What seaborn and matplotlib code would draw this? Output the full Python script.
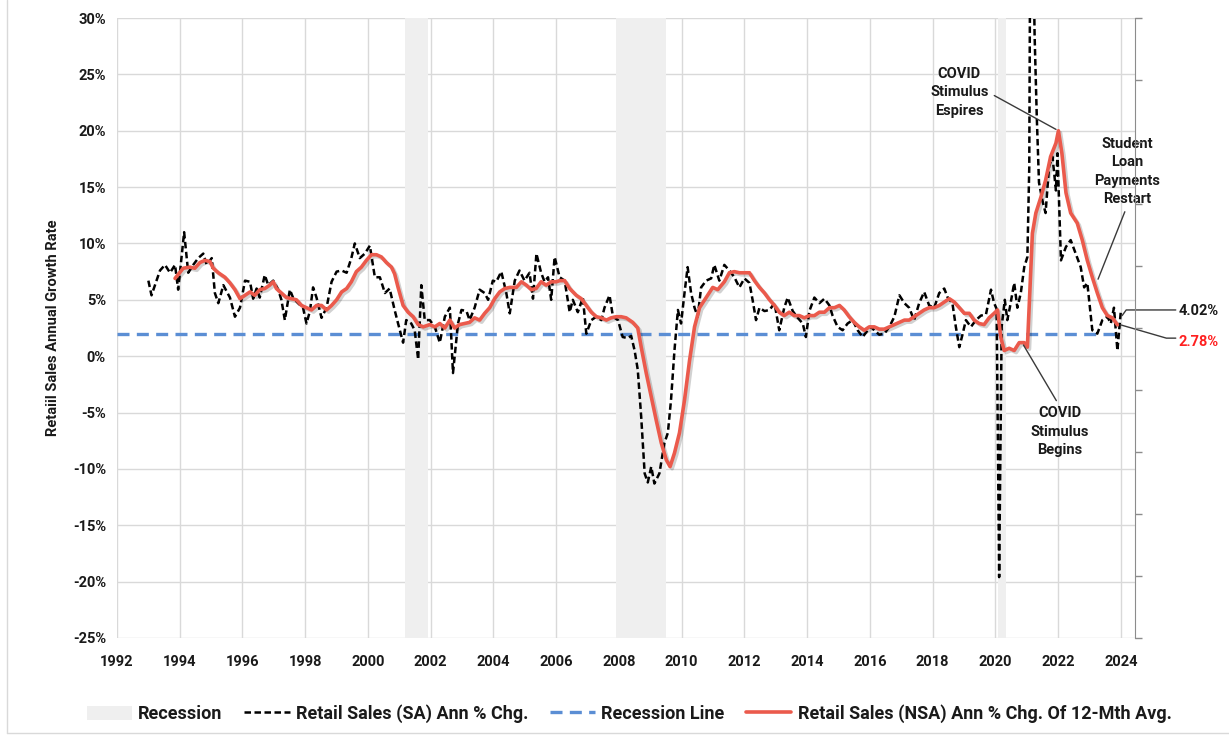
import matplotlib
matplotlib.use("Agg")
import matplotlib.pyplot as plt
import matplotlib.patheffects as pe
from matplotlib.patches import Patch
from matplotlib.lines import Line2D
import pandas as pd
import seaborn as sns

# Retail sales (SA) annual % change
sa_years = [1993.0, 1993.1, 1993.37, 1993.53, 1993.69, 1993.85, 1993.95, 1994.14, 1994.27, 1994.43,
            1994.59, 1994.75, 1994.86, 1995.02, 1995.12, 1995.23, 1995.39, 1995.6, 1995.76, 1995.92,
            1996.08, 1996.24, 1996.34, 1996.45, 1996.55, 1996.71, 1996.82, 1996.98, 1997.14, 1997.24,
            1997.35, 1997.51, 1997.61, 1997.77, 1997.93, 1998.04, 1998.15, 1998.25, 1998.36, 1998.52,
            1998.68, 1998.84, 1999.0, 1999.16, 1999.32, 1999.47, 1999.58, 1999.74, 1999.9, 2000.06,
            2000.22, 2000.38, 2000.54, 2000.69, 2000.85, 2000.96, 2001.12, 2001.22, 2001.38, 2001.49,
            2001.6, 2001.7, 2001.81, 2001.97, 2002.13, 2002.29, 2002.45, 2002.61, 2002.71, 2002.87,
            2002.98, 2003.14, 2003.24, 2003.4, 2003.56, 2003.72, 2003.83, 2003.98, 2004.09, 2004.25,
            2004.41, 2004.52, 2004.68, 2004.83, 2004.99, 2005.15, 2005.26, 2005.37, 2005.52, 2005.63,
            2005.74, 2005.84, 2005.95, 2006.11, 2006.27, 2006.43, 2006.53, 2006.69, 2006.85, 2006.96,
            2007.12, 2007.28, 2007.44, 2007.54, 2007.7, 2007.81, 2007.97, 2008.12, 2008.28, 2008.39,
            2008.5, 2008.6, 2008.71, 2008.82, 2008.92, 2009.03, 2009.13, 2009.29, 2009.45, 2009.56,
            2009.66, 2009.77, 2009.88, 2009.98, 2010.09, 2010.19, 2010.3, 2010.41, 2010.51, 2010.62,
            2010.78, 2010.94, 2011.04, 2011.2, 2011.36, 2011.52, 2011.68, 2011.84, 2012.0, 2012.16,
            2012.26, 2012.37, 2012.48, 2012.64, 2012.8, 2012.96, 2013.11, 2013.27, 2013.38, 2013.54,
            2013.7, 2013.86, 2013.96, 2014.07, 2014.23, 2014.39, 2014.55, 2014.71, 2014.81, 2014.97,
            2015.13, 2015.29, 2015.45, 2015.61, 2015.77, 2015.93, 2016.03, 2016.14, 2016.3, 2016.46,
            2016.62, 2016.78, 2016.94, 2017.1, 2017.25, 2017.41, 2017.57, 2017.73, 2017.89, 2018.05,
            2018.21, 2018.37, 2018.48, 2018.63, 2018.74, 2018.85, 2018.95, 2019.06, 2019.22, 2019.38,
            2019.54, 2019.7, 2019.86, 2019.96, 2020.04, 2020.12, 2020.2, 2020.3, 2020.38, 2020.46,
            2020.6, 2020.7, 2020.81, 2020.92, 2021.02, 2021.08, 2021.13, 2021.25, 2021.32, 2021.39,
            2021.5, 2021.6, 2021.71, 2021.82, 2021.93, 2021.98, 2022.09, 2022.25, 2022.4, 2022.56,
            2022.72, 2022.83, 2022.93, 2023.09, 2023.25, 2023.41, 2023.57, 2023.68, 2023.78, 2023.89,
            2024.0]
sa_values = [6.7, 5.4, 7.6, 8.1, 7.4, 8.1, 5.9, 11.0, 7.4, 8.1,
             8.7, 9.1, 8.1, 8.7, 5.6, 4.7, 6.3, 5.2, 3.5, 4.3,
             6.7, 6.6, 5.1, 6.0, 5.2, 7.2, 6.3, 6.7, 5.9, 5.0,
             3.2, 5.9, 5.2, 4.7, 4.3, 2.9, 4.0, 6.1, 5.2, 3.4,
             4.3, 6.6, 7.5, 7.6, 7.4, 8.7, 10.0, 8.7, 9.1, 9.8,
             7.0, 7.0, 5.6, 6.0, 4.1, 2.9, 1.2, 3.2, 2.9, 2.3,
             -0.3, 6.3, 3.2, 3.2, 2.6, 1.2, 3.5, 4.3, -1.5, 2.9,
             4.1, 4.0, 3.2, 4.3, 5.9, 5.6, 5.0, 6.7, 6.6, 7.5,
             5.6, 3.8, 6.7, 7.6, 6.7, 7.4, 5.1, 9.1, 7.4, 6.6,
             7.0, 5.0, 8.8, 7.0, 6.7, 3.9, 5.0, 3.9, 5.2, 2.0,
             3.2, 3.5, 3.2, 4.3, 5.4, 3.5, 3.2, 1.7, 1.6, 1.8,
             0.5, -1.2, -5.4, -10.4, -11.2, -9.8, -11.3, -10.4, -7.7, -6.8,
             -3.9, 0.5, 4.1, 2.9, 5.6, 7.9, 5.6, 4.3, 3.5, 6.1,
             6.7, 6.9, 8.1, 6.7, 8.1, 7.6, 7.0, 6.1, 6.9, 6.5,
             5.0, 3.2, 4.3, 4.0, 4.1, 4.7, 2.3, 4.3, 5.2, 4.0,
             3.4, 2.9, 1.7, 4.0, 5.2, 4.7, 5.1, 4.5, 3.6, 2.6,
             2.3, 2.9, 3.2, 2.3, 1.7, 2.3, 2.6, 2.3, 1.9, 2.0,
             2.6, 3.5, 5.4, 4.7, 4.3, 3.2, 4.7, 5.7, 4.5, 4.3,
             5.6, 6.0, 5.2, 4.7, 2.6, 0.8, 1.9, 3.2, 2.6, 3.2,
             3.6, 3.7, 5.9, 4.7, 4.2, -19.6, 2.6, 5.0, 3.2, 4.3,
             6.5, 4.3, 5.6, 7.9, 8.8, 16.8, 51.0, 28.5, 21.2, 15.4,
             13.8, 12.7, 16.8, 17.7, 14.7, 18.0, 8.5, 9.7, 10.3, 9.1,
             7.9, 6.1, 6.5, 2.3, 2.0, 3.2, 3.5, 2.9, 4.3, 0.5,
             4.02]

# Retail sales (NSA) annual % change of the 12-month average
nsa_years = [1993.85, 1994.11, 1994.32, 1994.48, 1994.64, 1994.8, 1994.96, 1995.07, 1995.23, 1995.44,
             1995.6, 1995.76, 1995.92, 1996.08, 1996.24, 1996.39, 1996.55, 1996.71, 1996.87, 1996.98,
             1997.08, 1997.24, 1997.4, 1997.56, 1997.72, 1997.88, 1998.04, 1998.2, 1998.36, 1998.52,
             1998.68, 1998.84, 1999.0, 1999.16, 1999.32, 1999.47, 1999.63, 1999.79, 1999.95, 2000.11,
             2000.27, 2000.43, 2000.59, 2000.75, 2000.85, 2000.96, 2001.12, 2001.28, 2001.44, 2001.6,
             2001.76, 2001.97, 2002.13, 2002.29, 2002.45, 2002.61, 2002.76, 2002.92, 2003.08, 2003.24,
             2003.4, 2003.56, 2003.72, 2003.88, 2004.04, 2004.2, 2004.36, 2004.52, 2004.73, 2004.89,
             2005.05, 2005.21, 2005.36, 2005.52, 2005.68, 2005.84, 2006.0, 2006.11, 2006.27, 2006.43,
             2006.64, 2006.8, 2006.96, 2007.12, 2007.28, 2007.44, 2007.6, 2007.75, 2007.91, 2008.07,
             2008.23, 2008.44, 2008.6, 2008.71, 2008.87, 2009.03, 2009.19, 2009.35, 2009.51, 2009.63,
             2009.77, 2009.93, 2010.09, 2010.25, 2010.41, 2010.57, 2010.78, 2010.99, 2011.15, 2011.36,
             2011.52, 2011.68, 2011.84, 2012.0, 2012.16, 2012.32, 2012.48, 2012.64, 2012.8, 2012.96,
             2013.11, 2013.27, 2013.43, 2013.59, 2013.75, 2013.91, 2014.07, 2014.23, 2014.39, 2014.55,
             2014.71, 2014.87, 2015.03, 2015.18, 2015.34, 2015.5, 2015.66, 2015.82, 2015.98, 2016.14,
             2016.3, 2016.46, 2016.62, 2016.78, 2016.94, 2017.1, 2017.25, 2017.41, 2017.57, 2017.73,
             2017.89, 2018.05, 2018.21, 2018.37, 2018.53, 2018.69, 2018.85, 2019.01, 2019.17, 2019.32,
             2019.48, 2019.64, 2019.8, 2019.96, 2020.07, 2020.17, 2020.28, 2020.44, 2020.6, 2020.76,
             2020.92, 2021.02, 2021.18, 2021.29, 2021.45, 2021.6, 2021.76, 2021.93, 2022.01, 2022.12,
             2022.25, 2022.4, 2022.61, 2022.77, 2022.93, 2023.09, 2023.25, 2023.41, 2023.57, 2023.73,
             2023.89]
nsa_values = [6.9, 7.8, 7.9, 7.8, 8.3, 8.5, 8.4, 7.8, 7.4, 7.0,
              6.5, 5.9, 5.1, 5.4, 5.7, 5.4, 5.9, 6.0, 6.3, 6.6,
              6.0, 5.6, 5.2, 5.1, 5.0, 4.5, 4.3, 4.1, 4.5, 4.5,
              4.1, 4.5, 5.0, 5.7, 6.0, 6.6, 7.5, 7.9, 8.5, 9.0,
              9.0, 8.8, 8.3, 7.9, 7.3, 6.1, 4.5, 3.9, 3.5, 2.8,
              2.6, 2.8, 2.6, 2.9, 2.5, 3.2, 2.5, 2.8, 2.9, 3.0,
              3.4, 3.2, 3.8, 4.3, 5.1, 5.7, 6.0, 6.1, 6.1, 6.6,
              6.3, 5.9, 6.0, 6.6, 6.3, 6.6, 6.6, 6.7, 6.7, 6.0,
              5.4, 5.1, 4.5, 3.9, 3.5, 3.4, 3.2, 3.4, 3.5, 3.5,
              3.4, 3.0, 2.5, 0.8, -1.5, -3.6, -5.7, -7.7, -9.2, -9.8,
              -8.6, -6.8, -3.9, -0.4, 2.6, 4.3, 5.2, 6.1, 5.9, 6.6,
              7.4, 7.5, 7.4, 7.4, 7.4, 6.7, 6.1, 5.6, 5.0, 4.5,
              3.9, 3.6, 3.9, 3.6, 3.6, 3.4, 3.6, 3.6, 3.9, 3.9,
              4.3, 4.3, 4.5, 4.1, 3.5, 3.0, 2.6, 2.3, 2.6, 2.6,
              2.4, 2.4, 2.6, 2.8, 3.0, 3.2, 3.2, 3.5, 3.8, 4.1,
              4.3, 4.3, 4.5, 4.8, 5.1, 4.8, 4.3, 3.8, 3.8, 3.2,
              2.9, 2.8, 3.4, 3.8, 4.1, 1.7, 0.5, 0.7, 0.5, 1.2,
              1.2, 0.8, 10.9, 12.7, 14.1, 15.6, 17.7, 18.9, 20.0, 18.0,
              14.5, 12.7, 11.8, 10.3, 8.5, 7.0, 5.6, 4.3, 3.6, 3.4,
              2.78]

recession_start = [2001.17, 2007.92, 2020.08]
recession_end = [2001.92, 2009.5, 2020.33]
recession_line_years = [1992, 2024]
recession_line_values = [2.0, 2.0]

year_ticks = list(range(1992, 2025, 2))
pct_ticks = list(range(-25, 31, 5))

sa_df = pd.DataFrame({"year": sa_years, "value": sa_values})
nsa_df = pd.DataFrame({"year": nsa_years, "value": nsa_values})
rl_df = pd.DataFrame({"year": recession_line_years, "value": recession_line_values})

sns.set_style("white")
plt.rcParams["font.family"] = ["Roboto", "DejaVu Sans"]
plt.rcParams["font.weight"] = "bold"

RED = "#EB5A4C"
BLUE = "#5B8ED4"
GREY_BAND = "#EFEFEF"
GRID = "#D9D9D9"
TXT = "#1A1A1A"

fig = plt.figure(figsize=(12.29, 7.35), dpi=100)
ax = fig.add_axes([0.0952, 0.132, 0.8283, 0.8435])

for s, e in zip(recession_start, recession_end):
    ax.axvspan(s, e, color=GREY_BAND, zorder=1, lw=0)

sns.lineplot(data=sa_df, x="year", y="value", ax=ax, color="black", lw=1.8,
             sort=False, estimator=None, zorder=3)
ax.lines[-1].set_dashes((2.6, 1.4))
sns.lineplot(data=rl_df, x="year", y="value", ax=ax, color=BLUE, lw=2.4,
             sort=False, estimator=None, zorder=2)
ax.lines[-1].set_dashes((3.6, 2.2))
sns.lineplot(data=nsa_df, x="year", y="value", ax=ax, color=RED, lw=2.6,
             sort=False, estimator=None, zorder=4,
             path_effects=[pe.SimpleLineShadow(offset=(1.5, -1.5), alpha=0.18, shadow_color="black"),
                           pe.Normal()])

ax.set_xlim(1992, 2024.45)
ax.set_ylim(-25, 30)
ax.set_xticks(year_ticks)
ax.set_yticks(pct_ticks)
ax.set_yticklabels([f"{t}%" for t in pct_ticks])
ax.set_axisbelow(True)
ax.grid(True, color=GRID, lw=1)
ax.tick_params(axis="both", length=0, labelsize=10.5, colors=TXT, pad=8)
ax.tick_params(axis="x", pad=12)
for lbl in ax.get_xticklabels() + ax.get_yticklabels():
    lbl.set_fontweight("bold")
for side in ["top", "bottom", "left", "right"]:
    ax.spines[side].set_visible(False)
ax.set_xlabel("")
ax.set_ylabel("Retaiil Sales Annual Growth Rate", fontsize=10.5, fontweight="bold", color=TXT, labelpad=9)

# unlabeled secondary axis on the right
ax2 = ax.twinx()
ax2.set_ylim(0, 10)
ax2.set_yticks(range(0, 11))
ax2.set_yticklabels([])
ax2.tick_params(axis="y", length=5, color="#8C8C8C", width=1)
for side in ["top", "bottom", "left"]:
    ax2.spines[side].set_visible(False)
ax2.spines["right"].set_color("#8C8C8C")

# annotations
line_kw = dict(arrowstyle="-", color="#3A3A3A", lw=1)
txt_kw = dict(ha="center", va="center", fontsize=10.5, fontweight="bold", linespacing=1.4, color=TXT)
peak_i = nsa_values.index(max(nsa_values))
ax.annotate("COVID\nStimulus\nEspires", xy=(nsa_years[peak_i], nsa_values[peak_i]),
            xytext=(2018.85, 23.4), arrowprops=dict(line_kw, relpos=(1.0, 0.5)), zorder=6, **txt_kw)
ax.annotate("Student\nLoan\nPayments\nRestart", xy=(2023.24, 6.6),
            xytext=(2024.2, 16.4), arrowprops=dict(line_kw, relpos=(0.5, 0.0)), zorder=6,
            annotation_clip=False, **txt_kw)
ax.annotate("COVID\nStimulus\nBegins", xy=(2020.85, 1.2),
            xytext=(2022.05, -6.7), arrowprops=dict(line_kw, relpos=(0.5, 1.0)), zorder=6, **txt_kw)

# end-value labels with leader lines
sa_last = sa_values[-1]
nsa_last = nsa_values[-1]
ax.plot([sa_years[-1] + 0.04, sa_years[-1] + 0.17, 2025.75], [3.6, 4.1, 4.1],
        color="#3A3A3A", lw=1, clip_on=False, zorder=6)
ax.text(2025.85, 4.0, f"{sa_last:.2f}%", ha="left", va="center", fontsize=10.5, fontweight="bold",
        color=TXT, clip_on=False)
ax.plot([nsa_years[-1] + 0.1, 2025.45, 2025.75], [nsa_last, 1.6, 1.6],
        color="#3A3A3A", lw=1, clip_on=False, zorder=6)
ax.text(2025.85, 1.3, f"{nsa_last:.2f}%", ha="left", va="center", fontsize=10.5, fontweight="bold",
        color="#FF2020", clip_on=False)

handles = [Patch(facecolor=GREY_BAND, edgecolor="none"),
           Line2D([], [], color="black", lw=1.8, dashes=(2.6, 1.4)),
           Line2D([], [], color=BLUE, lw=2.4, dashes=(3.6, 2.2)),
           Line2D([], [], color=RED, lw=2.6)]
labels = ["Recession", "Retail Sales (SA) Ann % Chg.", "Recession Line",
          "Retail Sales (NSA) Ann % Chg. Of 12-Mth Avg."]
fig.legend(handles, labels, loc="center", bbox_to_anchor=(0.512, 0.029), ncol=4, frameon=False,
           handlelength=2.5, handleheight=0.8, columnspacing=1.2, handletextpad=0.35,
           labelcolor=TXT, prop={"weight": "bold", "size": 13})

# chart frame
fig.add_artist(Line2D([0.006, 0.006], [0.003, 1.0], color=GRID, lw=1))
fig.add_artist(Line2D([0.006, 1.0], [0.003, 0.003], color=GRID, lw=1))

fig.savefig("out.png", dpi=100)
